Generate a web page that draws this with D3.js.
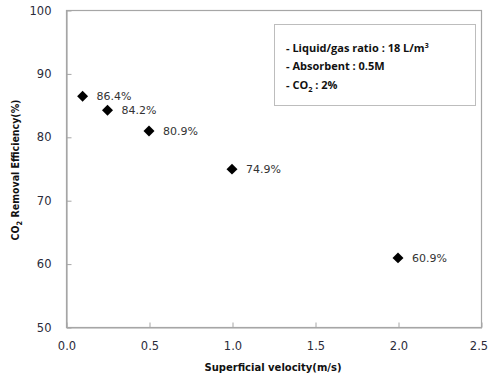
<!DOCTYPE html>
<html>
<head>
<meta charset="utf-8">
<script src="https://cdn.jsdelivr.net/npm/d3@7/dist/d3.min.js"></script>
<style>
  html, body { margin: 0; padding: 0; background: #fff; }
  svg { display: block; }
</style>
</head>
<body>
<svg id="chart" width="488" height="376"></svg>
<script>
// Superficial velocity (m/s) vs CO2 removal efficiency (%)
const velocity = [0.1, 0.25, 0.5, 1.0, 2.0];
const efficiency = [86.4, 84.2, 80.9, 74.9, 60.9];
const pointLabels = ["86.4%", "84.2%", "80.9%", "74.9%", "60.9%"];
const xTicks = [0.0, 0.5, 1.0, 1.5, 2.0, 2.5];
const yTicks = [50, 60, 70, 80, 90, 100];
const conditions = ["Liquid/gas ratio : 18 L/m", "Absorbent : 0.5M", "CO"];

const svg = d3.select("#chart");
const margin = { left: 66, right: 7, top: 10, bottom: 49 };
const W = 488, H = 376;

const x = d3.scaleLinear().domain([0, 2.5]).range([margin.left, W - margin.right]);
const y = d3.scaleLinear().domain([50, 100]).range([H - margin.bottom, margin.top]);

const tickColor = "#2b2b3a";
const frameColor = "#a6a6a6";

// plot frame
svg.append("rect")
  .attr("x", x(0) + 0.5).attr("y", y(100) + 0.5)
  .attr("width", x(2.5) - x(0)).attr("height", y(50) - y(100))
  .attr("fill", "none").attr("stroke", frameColor).attr("stroke-width", 1.2);

// x axis: inward ticks
const xAxis = svg.append("g")
  .attr("transform", `translate(0.5,${y(50) + 0.5})`)
  .call(d3.axisBottom(x).tickValues(xTicks).tickSizeInner(-5).tickSizeOuter(0)
    .tickFormat(d3.format(".1f")));
xAxis.select(".domain").attr("stroke", frameColor).attr("stroke-width", 1.2);
xAxis.selectAll(".tick line").attr("stroke", frameColor);
xAxis.selectAll(".tick text")
  .attr("y", 14).attr("dy", "0.71em")
  .attr("fill", tickColor)
  .style("font-family", "'DejaVu Sans', Verdana, sans-serif")
  .style("font-size", "11.5px");
// keep the last label inside the page edge
xAxis.selectAll(".tick text").filter(d => d === 2.5).attr("x", -3);

// y axis: inward ticks
const yAxis = svg.append("g")
  .attr("transform", `translate(${x(0) + 0.5},0.5)`)
  .call(d3.axisLeft(y).tickValues(yTicks).tickSizeInner(-5).tickSizeOuter(0));
yAxis.select(".domain").attr("stroke", frameColor).attr("stroke-width", 1.2);
yAxis.selectAll(".tick line").attr("stroke", frameColor);
yAxis.selectAll(".tick text")
  .attr("x", -15)
  .attr("fill", tickColor)
  .style("font-family", "'DejaVu Sans', Verdana, sans-serif")
  .style("font-size", "11.5px");

// axis titles
svg.append("text")
  .attr("x", 273).attr("y", 371)
  .attr("text-anchor", "middle")
  .attr("fill", "#111")
  .style("font-family", "'DejaVu Sans', Verdana, sans-serif")
  .style("font-weight", "bold")
  .style("font-size", "10px")
  .text("Superficial velocity(m/s)");

const yTitle = svg.append("text")
  .attr("transform", `translate(19,170) rotate(-90)`)
  .attr("text-anchor", "middle")
  .attr("fill", "#111")
  .style("font-family", "'DejaVu Sans Condensed', 'DejaVu Sans', sans-serif")
  .style("font-weight", "bold")
  .style("font-size", "10.5px");
yTitle.append("tspan").text("CO");
yTitle.append("tspan").attr("dy", 3).style("font-size", "7.5px").text("2");
yTitle.append("tspan").attr("dy", -3).text(" Removal Efficiency(%)");

// data points (diamonds)
const diamond = d3.symbol().type(d3.symbolSquare).size(60);
svg.append("g").selectAll("path")
  .data(velocity)
  .join("path")
  .attr("d", diamond)
  .attr("transform", (d, i) => `translate(${x(d)},${y(efficiency[i])}) rotate(45)`)
  .attr("fill", "#000");

// value labels
svg.append("g").selectAll("text")
  .data(velocity)
  .join("text")
  .attr("x", d => x(d) + 14)
  .attr("y", (d, i) => y(efficiency[i]))
  .attr("dy", "0.35em")
  .attr("fill", "#333")
  .style("font-family", "'DejaVu Sans', Verdana, sans-serif")
  .style("font-size", "11px")
  .text((d, i) => pointLabels[i]);

// conditions box
svg.append("rect")
  .attr("x", 274.5).attr("y", 24.5)
  .attr("width", 201).attr("height", 81)
  .attr("fill", "#fff").attr("stroke", "#bdbdbd").attr("stroke-width", 1);

const boxFont = "'Open Sans', 'Noto Sans', sans-serif";
const lineYs = [52, 70, 89];
function boxLine(i) {
  return svg.append("text")
    .attr("x", 286).attr("y", lineYs[i])
    .attr("fill", "#111")
    .style("font-family", boxFont)
    .style("font-weight", "bold")
    .style("font-size", "11px");
}
const l1 = boxLine(0);
l1.append("tspan").text("- " + conditions[0]);
l1.append("tspan").attr("dy", -4).style("font-size", "7px").text("3");
boxLine(1).text("- " + conditions[1]);
const l3 = boxLine(2);
l3.append("tspan").text("- " + conditions[2]);
l3.append("tspan").attr("dy", 3).style("font-size", "7.5px").text("2");
l3.append("tspan").attr("dy", -3).text(" : 2%");
</script>
</body>
</html>
